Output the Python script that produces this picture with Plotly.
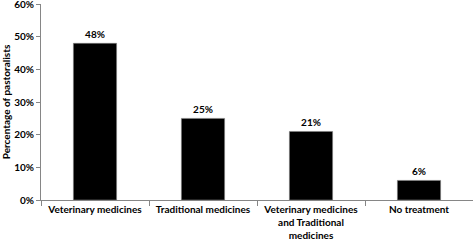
import plotly.graph_objects as go

categories = ["Veterinary medicines", "Traditional medicines",
              "Veterinary medicines<br>and Traditional<br>medicines", "No treatment"]
values = [48, 25, 21, 6]
value_labels = ["48%", "25%", "21%", "6%"]
y_ticks = [0, 10, 20, 30, 40, 50, 60]
y_tick_labels = [f"{v}%" for v in y_ticks]

font = "Lato"
fig = go.Figure(go.Bar(
    x=categories, y=values, text=value_labels, textposition="outside",
    marker=dict(color="black", line=dict(color="#808080", width=0.6)),
    width=0.4, cliponaxis=False,
    textfont=dict(family=font, size=10, color="black", weight="bold"),
))
fig.update_layout(
    width=473, height=242,
    margin=dict(l=41, r=0, t=4, b=42),
    paper_bgcolor="white", plot_bgcolor="white",
    showlegend=False,
    font=dict(family=font, size=10, color="black"),
)
fig.update_xaxes(
    automargin=False,
    showline=True, linecolor="#868686", linewidth=1,
    ticks="outside", tickson="boundaries", ticklen=5, tickcolor="#868686",
    tickfont=dict(family=font, size=10, color="black", weight="bold"),
)
fig.update_yaxes(
    automargin=False, ticklabeloverflow="allow",
    range=[0, 60.05], tickvals=y_ticks, ticktext=y_tick_labels,
    showline=True, linecolor="#868686", linewidth=1,
    ticks="outside", ticklen=4, tickcolor="#868686", showgrid=False, zeroline=False,
    tickfont=dict(family=font, size=10, color="black", weight="bold"),
    title=dict(text="Percentage of pastoralists", standoff=2,
               font=dict(family=font, size=10, color="black", weight="bold")),
)
fig.write_html("out.html", config={"displayModeBar": False},
               post_script="document.body.style.margin='0';")
